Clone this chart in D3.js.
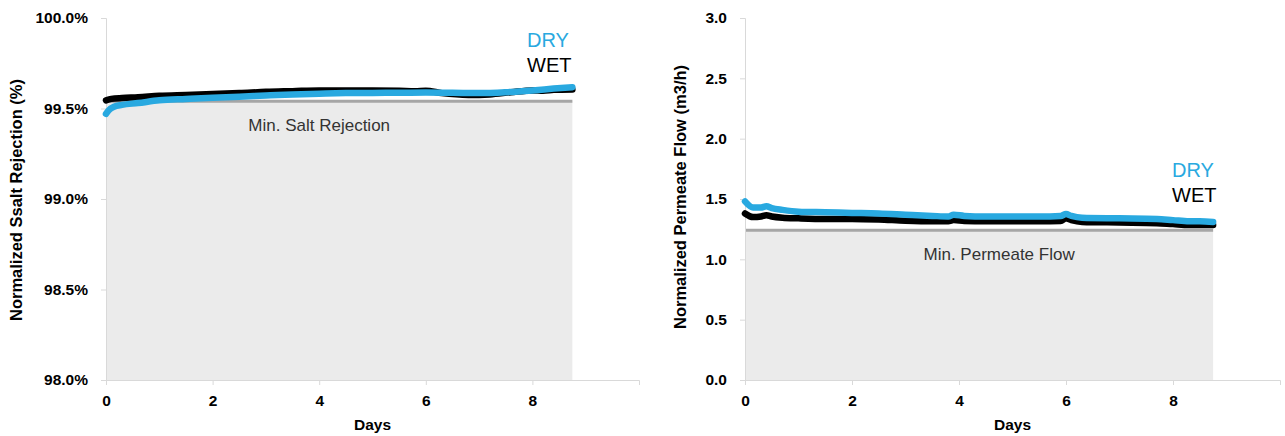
<!DOCTYPE html>
<html>
<head>
<meta charset="utf-8">
<script src="https://cdn.jsdelivr.net/npm/d3@7"></script>
<style>
  body { margin: 0; background: #fff; }
  svg { display: block; font-family: "Liberation Sans", Arial, sans-serif; }
  .tick text { font-weight: bold; font-size: 15.5px; fill: #000; }
  .domain, .tick line { stroke: #d9d9d9; }
</style>
</head>
<body>
<div id="chart"></div>
<script>
// ---- data ----
var saltWetDays = [0, 0.1, 0.3, 0.6, 1, 1.5, 2, 2.5, 3, 3.5, 4, 4.5, 5, 5.5, 5.8, 6, 6.3, 6.8, 7.2, 7.6, 8, 8.2, 8.4, 8.75];
var saltWet = [99.545, 99.553, 99.558, 99.562, 99.57, 99.575, 99.58, 99.585, 99.592, 99.596, 99.6, 99.6, 99.6, 99.598, 99.595, 99.598, 99.585, 99.575, 99.578, 99.59, 99.6, 99.598, 99.603, 99.605];
var saltDryDays = [0, 0.05, 0.15, 0.3, 0.6, 1, 1.5, 2, 2.5, 3, 3.5, 4, 4.5, 5, 5.5, 6, 6.5, 7, 7.5, 8, 8.4, 8.75];
var saltDry = [99.47, 99.49, 99.51, 99.52, 99.53, 99.545, 99.553, 99.56, 99.565, 99.572, 99.578, 99.582, 99.585, 99.586, 99.587, 99.588, 99.587, 99.585, 99.59, 99.6, 99.61, 99.618];
var saltMin = 99.54;

var flowDays = [0, 0.15, 0.3, 0.4, 0.5, 0.7, 1, 1.5, 2, 2.5, 3, 3.5, 3.8, 3.9, 4.1, 4.5, 5, 5.5, 5.9, 6, 6.1, 6.3, 7, 7.7, 8, 8.3, 8.5, 8.75];
var flowDry = [1.48, 1.43, 1.43, 1.44, 1.425, 1.41, 1.395, 1.39, 1.385, 1.38, 1.37, 1.36, 1.355, 1.37, 1.36, 1.355, 1.355, 1.355, 1.36, 1.375, 1.36, 1.345, 1.34, 1.335, 1.325, 1.315, 1.315, 1.31];
var flowWet = [1.38, 1.35, 1.355, 1.365, 1.355, 1.345, 1.34, 1.335, 1.335, 1.33, 1.32, 1.315, 1.315, 1.325, 1.318, 1.315, 1.315, 1.315, 1.318, 1.34, 1.325, 1.31, 1.305, 1.3, 1.292, 1.285, 1.285, 1.285];
var flowMin = 1.24;

var xTicks = [0, 2, 4, 6, 8];
var saltTicks = [98, 98.5, 99, 99.5, 100];
var flowTicks = [0, 0.5, 1, 1.5, 2, 2.5, 3];

var blue = "#29a9e0";
var black = "#000";

var width = 1285, height = 436;
var svg = d3.select("#chart").append("svg").attr("width", width).attr("height", height);

function drawPanel(p) {
  var x = d3.scaleLinear().domain([0, 10]).range([p.left, p.right]);
  var y = d3.scaleLinear().domain(p.yDomain).range([380, 18]);
  var g = svg.append("g");

  // shaded minimum area + line
  g.append("rect")
    .attr("x", x(0)).attr("y", y(p.min))
    .attr("width", x(8.75) - x(0)).attr("height", y(p.yDomain[0]) - y(p.min))
    .attr("fill", "#ebebeb");

  g.append("line")
    .attr("x1", x(0)).attr("x2", x(8.75))
    .attr("y1", y(p.min)).attr("y2", y(p.min))
    .attr("stroke", "#a6a6a6").attr("stroke-width", 3);

  g.append("text")
    .attr("x", x(p.minLabelX)).attr("y", y(p.min) + 30)
    .attr("text-anchor", "middle")
    .attr("font-size", 17).attr("fill", "#333")
    .text(p.minLabel);

  // axes
  g.append("g")
    .attr("transform", "translate(0," + y(p.yDomain[0]) + ")")
    .call(d3.axisBottom(x).tickValues(xTicks).tickSize(5).tickPadding(10).tickFormat(d3.format("d")));

  g.append("g")
    .attr("transform", "translate(" + x(0) + ",0)")
    .call(d3.axisLeft(y).tickValues(p.yTicks).tickSize(5).tickPadding(13).tickFormat(p.fmt));

  g.selectAll(".domain").attr("stroke", "#d9d9d9");

  // series
  var line = d3.line().curve(d3.curveMonotoneX);
  p.series.forEach(function (s) {
    var pts = s.days.map(function (d, i) { return [x(d), y(s.values[i])]; });
    g.append("path")
      .attr("d", line(pts))
      .attr("fill", "none")
      .attr("stroke", s.color)
      .attr("stroke-width", 6.5)
      .attr("stroke-linecap", "round")
      .attr("stroke-linejoin", "round");
  });

  // legend labels
  g.append("text").attr("x", p.legendX).attr("y", p.legendY)
    .attr("font-size", 20).attr("fill", blue).text("DRY");
  g.append("text").attr("x", p.legendX).attr("y", p.legendY + 25)
    .attr("font-size", 20).attr("fill", black).text("WET");

  // axis titles
  g.append("text")
    .attr("x", x(5)).attr("y", 430)
    .attr("text-anchor", "middle")
    .attr("font-weight", "bold").attr("font-size", 15.5)
    .text("Days");

  g.append("text")
    .attr("transform", "translate(" + p.titleX + "," + p.titleY + ") rotate(-90)")
    .attr("text-anchor", "middle")
    .attr("font-weight", "bold").attr("font-size", 16.5)
    .text(p.yTitle);
}

drawPanel({
  left: 106, right: 639,
  yDomain: [98, 100], yTicks: saltTicks,
  fmt: function (d) { return d3.format(".1f")(d) + "%"; },
  min: saltMin, minLabel: "Min. Salt Rejection", minLabelX: 4,
  series: [
    { days: saltWetDays, values: saltWet, color: black },
    { days: saltDryDays, values: saltDry, color: blue }
  ],
  legendX: 527, legendY: 47,
  titleX: 22, titleY: 200, yTitle: "Normalized Ssalt Rejection (%)"
});

drawPanel({
  left: 745, right: 1280,
  yDomain: [0, 3], yTicks: flowTicks,
  fmt: d3.format(".1f"),
  min: flowMin, minLabel: "Min. Permeate Flow", minLabelX: 4.75,
  series: [
    { days: flowDays, values: flowWet, color: black },
    { days: flowDays, values: flowDry, color: blue }
  ],
  legendX: 1172, legendY: 177,
  titleX: 686, titleY: 197, yTitle: "Normalized Permeate Flow (m3/h)"
});
</script>
</body>
</html>
